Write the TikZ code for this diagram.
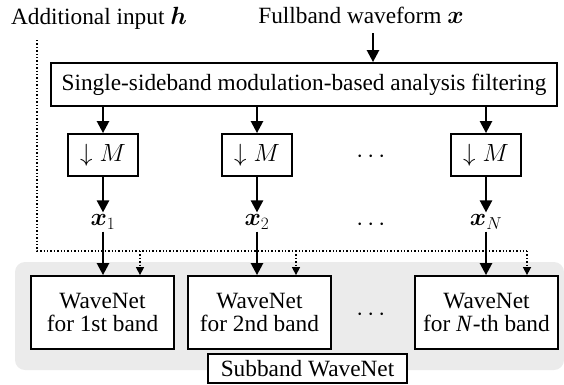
\documentclass[tikz,border=0pt]{standalone}
\usepackage{amsmath,amssymb}
\usepackage{bm}
\usepackage{fontspec}
\setmainfont{Liberation Serif}
\usetikzlibrary{positioning, arrows.meta}

\begin{document}
\begin{tikzpicture}[x=1pt, y=-1pt,
    font=\fontsize{23.3}{26}\selectfont,
    blk/.style={draw, line width=1.8pt, inner sep=0pt, align=center}, % boxes
    arr/.style={line width=2.4pt, -{Triangle[length=12pt,width=12pt]}},
    dotarr/.style={dotted, line width=1.4pt, -{Triangle[length=8pt,width=8pt]}}
    ]
\useasboundingbox (0,0) rectangle (564,384);
\fill[black!8, rounded corners=10pt] (15,262) rectangle (564,370);

\node at (99,18) {Additional input $\bm{h}$};
\node at (361,15) {Fullband waveform $\bm{x}$};
\coordinate (in) at (373,33);

\node[blk, minimum width=506, minimum height=43] (ana) at (304,84.5)
    {Single-sideband modulation-based analysis filtering};

\node[blk, minimum width=70, minimum height=42] (ds1) at (103,155) {$\downarrow M$};
\node[blk, minimum width=70, minimum height=42] (ds2) at (257,155) {$\downarrow M$};
\node[blk, minimum width=70, minimum height=42] (ds3) at (486,155) {$\downarrow M$};
\node at (373,157) {$\cdots$};

\node[inner sep=2pt, font=\fontsize{25}{28}\selectfont] (x1) at (103,222) {$\bm{x}_1$};
\node[inner sep=2pt, font=\fontsize{25}{28}\selectfont] (x2) at (257,222) {$\bm{x}_2$};
\node[inner sep=2pt, font=\fontsize{25}{28}\selectfont] (x3) at (486,222) {$\bm{x}_N$};
\node at (373,225) {$\cdots$};

\node[blk, fill=white, minimum width=143, minimum height=73] (wn1) at (102.5,312.5)
    {WaveNet\\[-3pt]for 1st band};
\node[blk, fill=white, minimum width=143, minimum height=73] (wn2) at (259.5,312.5)
    {WaveNet\\[-3pt]for 2nd band};
\node[blk, fill=white, minimum width=143, minimum height=73] (wn3) at (486.5,312.5)
    {WaveNet\\[-3pt]for \textit{N}-th band};
\node at (373,315) {$\cdots$};

\node[blk, fill=white, minimum width=199, minimum height=29] (sub) at (307.5,368.5)
    {Subband WaveNet};

\draw[arr] (in) -- (in |- ana.north);
\draw[arr] (ds1 |- ana.south) -- (ds1.north);
\draw[arr] (ds2 |- ana.south) -- (ds2.north);
\draw[arr] (ds3 |- ana.south) -- (ds3.north);
\draw[arr] (ds1.south) -- (x1.north);
\draw[arr] (ds2.south) -- (x2.north);
\draw[arr] (ds3.south) -- (x3.north);
\draw[arr] (x1.south) -- (wn1.north -| x1);
\draw[arr] (x2.south) -- (wn2.north -| x2);
\draw[arr] (x3.south) -- (wn3.north -| x3);

% additional input
\coordinate (h0) at (37,40);
\coordinate (h1) at (140,251);
\coordinate (h2) at (296,251);
\coordinate (h3) at (527,251);
\draw[dotted, line width=1.4pt] (h0) |- (h3);
\draw[dotarr] (h1) -- (h1 |- wn1.north);
\draw[dotarr] (h2) -- (h2 |- wn2.north);
\draw[dotarr] (h3) -- (h3 |- wn3.north);
\end{tikzpicture}
\end{document}
